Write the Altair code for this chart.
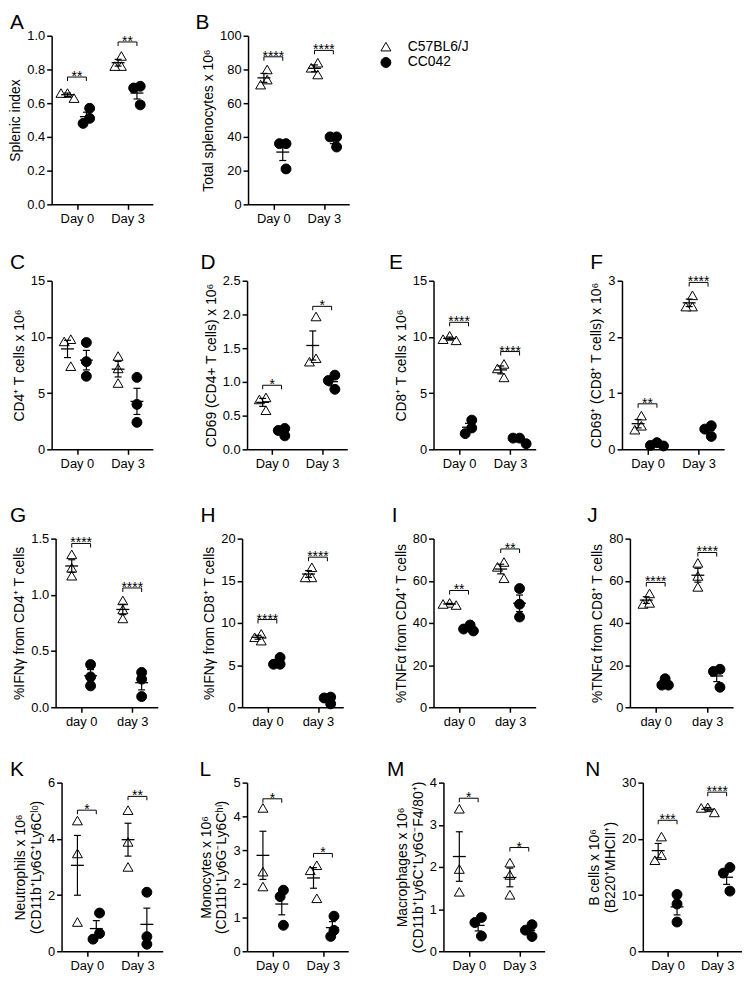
import json
import numpy as np
import pandas as pd
import altair as alt

FONT = "Liberation Sans"

strains = ["C57BL6/J", "CC042"]
days_cap = ["Day 0", "Day 3"]
days_low = ["day 0", "day 3"]

# value groups in order: [C57BL6/J day 0, CC042 day 0, C57BL6/J day 3, CC042 day 3]
splenic_index = [[0.66, 0.66, 0.63], [0.57, 0.51, 0.48], [0.88, 0.82, 0.82], [0.70, 0.69, 0.59]]
splenic_index_stars = ["**", "**"]
splenic_index_brackets = [0.755, 0.963]
splenic_index_ticks = [0, 0.2, 0.4, 0.6, 0.8, 1.0]

total_splenocytes = [[80, 71, 74], [36, 36, 21], [84, 81, 77], [40, 40, 34]]
total_splenocytes_stars = ["****", "****"]
total_splenocytes_brackets = [87.5, 91.3]
total_splenocytes_ticks = [0, 20, 40, 60, 80, 100]

cd4 = [[9.8, 9.6, 7.4], [9.5, 7.8, 6.5], [8.3, 7.2, 5.9], [6.4, 4.0, 2.4]]
cd4_stars = ["", ""]
cd4_brackets = [0, 0]
cd4_ticks = [0, 5, 10, 15]

cd69_cd4 = [[0.77, 0.74, 0.58], [0.31, 0.28, 0.20], [1.97, 1.30, 1.35], [1.10, 1.02, 0.89]]
cd69_cd4_stars = ["*", "*"]
cd69_cd4_brackets = [0.95, 2.12]
cd69_cd4_ticks = [0, 0.5, 1.0, 1.5, 2.0, 2.5]

cd8 = [[10.1, 9.8, 9.7], [2.6, 1.4, 1.9], [7.6, 7.2, 6.4], [0.5, 1.0, 1.0]]
cd8_stars = ["****", "****"]
cd8_brackets = [11.3, 8.7]
cd8_ticks = [0, 5, 10, 15]

cd69_cd8 = [[0.60, 0.35, 0.42], [0.12, 0.06, 0.07], [2.74, 2.54, 2.54], [0.42, 0.36, 0.23]]
cd69_cd8_stars = ["**", "****"]
cd69_cd8_brackets = [0.81, 2.97]
cd69_cd8_ticks = [0, 1, 2, 3]

ifng_cd4 = [[1.36, 1.24, 1.17], [0.38, 0.27, 0.19], [0.95, 0.87, 0.79], [0.31, 0.25, 0.095]]
ifng_cd4_stars = ["****", "****"]
ifng_cd4_brackets = [1.457, 1.061]
ifng_cd4_ticks = [0, 0.5, 1.0, 1.5]

ifng_cd8 = [[8.7, 8.3, 7.9], [5.9, 5.1, 5.1], [16.6, 15.4, 15.4], [1.2, 1.1, 0.4]]
ifng_cd8_stars = ["****", "****"]
ifng_cd8_brackets = [10.4, 17.8]
ifng_cd8_ticks = [0, 5, 10, 15, 20]

tnfa_cd4 = [[49.5, 49.0, 48.5], [39.0, 36.2, 37.1], [68.9, 66.6, 61.2], [56.3, 48.9, 42.8]]
tnfa_cd4_stars = ["**", "**"]
tnfa_cd4_brackets = [55.4, 75.1]
tnfa_cd4_ticks = [0, 20, 40, 60, 80]

tnfa_cd8 = [[54.0, 49.0, 49.5], [13.5, 10.5, 10.5], [68.5, 62.3, 57.1], [18.0, 17.0, 9.5]]
tnfa_cd8_stars = ["****", "****"]
tnfa_cd8_brackets = [59.2, 73.4]
tnfa_cd8_ticks = [0, 20, 40, 60, 80]

neutrophils = [[4.65, 3.48, 1.04], [1.36, 0.63, 0.43], [5.02, 3.89, 3.0], [2.1, 0.52, 0.25]]
neutrophils_stars = ["*", "**"]
neutrophils_brackets = [5.02, 5.51]
neutrophils_ticks = [0, 2, 4, 6]

monocytes = [[4.25, 2.36, 1.92], [1.81, 1.62, 0.77], [2.55, 2.40, 1.57], [1.04, 0.62, 0.44]]
monocytes_stars = ["*", "*"]
monocytes_brackets = [4.52, 2.9]
monocytes_ticks = [0, 1, 2, 3, 4, 5]

macrophages = [[3.38, 1.95, 1.41], [0.80, 0.68, 0.36], [2.10, 1.81, 1.34], [0.63, 0.50, 0.35]]
macrophages_stars = ["*", "*"]
macrophages_brackets = [3.63, 2.46]
macrophages_ticks = [0, 1, 2, 3, 4]

b_cells = [[20.4, 16.2, 17.1], [10.1, 8.4, 5.2], [25.6, 25.5, 24.7], [14.9, 13.9, 10.7]]
b_cells_stars = ["***", "****"]
b_cells_brackets = [23.3, 28.3]
b_cells_ticks = [0, 10, 20, 30]

panels = {
    "A": dict(title="Splenic index", vals=splenic_index, stars=splenic_index_stars,
              brackets=splenic_index_brackets, ticks=splenic_index_ticks, fmt=".1f", days=days_cap),
    "B": dict(title="Total splenocytes x 10⁶", vals=total_splenocytes, stars=total_splenocytes_stars,
              brackets=total_splenocytes_brackets, ticks=total_splenocytes_ticks, fmt="d", days=days_cap),
    "C": dict(title="CD4⁺ T cells x 10⁶", vals=cd4, stars=cd4_stars, brackets=cd4_brackets,
              ticks=cd4_ticks, fmt="d", days=days_cap),
    "D": dict(title="CD69 (CD4+ T cells) x 10⁶", vals=cd69_cd4, stars=cd69_cd4_stars,
              brackets=cd69_cd4_brackets, ticks=cd69_cd4_ticks, fmt=".1f", days=days_cap),
    "E": dict(title="CD8⁺ T cells x 10⁶", vals=cd8, stars=cd8_stars, brackets=cd8_brackets,
              ticks=cd8_ticks, fmt="d", days=days_cap),
    "F": dict(title="CD69⁺ (CD8⁺ T cells) x 10⁶", vals=cd69_cd8, stars=cd69_cd8_stars,
              brackets=cd69_cd8_brackets, ticks=cd69_cd8_ticks, fmt="d", days=days_cap),
    "G": dict(title="%IFNγ from CD4⁺ T cells", vals=ifng_cd4, stars=ifng_cd4_stars,
              brackets=ifng_cd4_brackets, ticks=ifng_cd4_ticks, fmt=".1f", days=days_low),
    "H": dict(title="%IFNγ from CD8⁺ T cells", vals=ifng_cd8, stars=ifng_cd8_stars,
              brackets=ifng_cd8_brackets, ticks=ifng_cd8_ticks, fmt="d", days=days_low),
    "I": dict(title="%TNFα from CD4⁺ T cells", vals=tnfa_cd4, stars=tnfa_cd4_stars,
              brackets=tnfa_cd4_brackets, ticks=tnfa_cd4_ticks, fmt="d", days=days_low),
    "J": dict(title="%TNFα from CD8⁺ T cells", vals=tnfa_cd8, stars=tnfa_cd8_stars,
              brackets=tnfa_cd8_brackets, ticks=tnfa_cd8_ticks, fmt="d", days=days_low),
    "K": dict(title=["Neutrophils x 10⁶", "(CD11b⁺Ly6G⁺Ly6Cˡᵒ)"], vals=neutrophils,
              stars=neutrophils_stars, brackets=neutrophils_brackets, ticks=neutrophils_ticks,
              fmt="d", days=days_cap),
    "L": dict(title=["Monocytes x 10⁶", "(CD11b⁺Ly6G⁻Ly6Cʰⁱ)"], vals=monocytes,
              stars=monocytes_stars, brackets=monocytes_brackets, ticks=monocytes_ticks,
              fmt="d", days=days_cap),
    "M": dict(title=["Macrophages x 10⁶", "(CD11b⁺Ly6C⁺Ly6G⁻F4/80⁺)"], vals=macrophages,
              stars=macrophages_stars, brackets=macrophages_brackets, ticks=macrophages_ticks,
              fmt="d", days=days_cap),
    "N": dict(title=["B cells x 10⁶", "(B220⁺MHCII⁺)"], vals=b_cells, stars=b_cells_stars,
              brackets=b_cells_brackets, ticks=b_cells_ticks, fmt="d", days=days_cap),
}

# ---------------- layout ----------------
H = 170
STRAIN_SHIFT = 9.5   # px between day tick and strain group centre
DOT = 6.6            # min px distance between symbols in a swarm
STEP = 3.3

layout = {
    "A": dict(w=102, dx=-42), "B": dict(w=102, dx=-53),
    "C": dict(w=102, dx=-42), "D": dict(w=101, dx=-47), "E": dict(w=103, dx=-45), "F": dict(w=103, dx=-32),
    "G": dict(w=103, dx=-46), "H": dict(w=102, dx=-42), "I": dict(w=103, dx=-42), "J": dict(w=104, dx=-43),
    "K": dict(w=102, dx=-52), "L": dict(w=102, dx=-48), "M": dict(w=102, dx=-57), "N": dict(w=100, dx=-58),
}
rows = [
    (["A", "B"], 0, [96]),
    (["C", "D", "E", "F"], 0, [95, 87, 87]),
    (["G", "H", "I", "J"], 4, [85, 91, 95]),
    (["K", "L", "M", "N"], 10, [85, 96, 99]),
]
title_offsets = [-3, 2, 7, -3]
row_spacing = [27, 35, 31]

LEG = alt.Legend(title=None, orient="none", legendX=330, legendY=4, labelFont=FONT, labelFontSize=14,
                 labelColor="black", symbolSize=100, symbolStrokeWidth=1,
                 symbolOpacity=1, labelOffset=15, rowPadding=2, padding=0)
SHAPE = alt.Shape("strain:N", scale=alt.Scale(domain=strains, range=["triangle-up", "circle"]), legend=LEG)
FILL = alt.Fill("strain:N", scale=alt.Scale(domain=strains, range=["white", "black"]), legend=LEG)
STROKE = alt.Stroke("strain:N", scale=alt.Scale(domain=strains, range=["black", "black"]), legend=LEG)


def swarm(vals, ymax):
    py = [v / ymax * H for v in vals]
    order = sorted(range(len(vals)), key=lambda i: -vals[i])
    offs = [0.0] * len(vals)
    placed = []
    for i in order:
        chosen = 0.0
        for k in [0, -1, 1, -2, 2, -3, 3, -4, 4]:
            dx = k * STEP
            if all((dx - offs[j]) ** 2 + (py[i] - py[j]) ** 2 >= DOT ** 2 for j in placed):
                chosen = dx
                break
        offs[i] = chosen
        placed.append(i)
    c = (max(offs) + min(offs)) / 2
    return [o - c for o in offs]


def make_panel(letter, toff):
    p = panels[letter]
    lay = layout[letter]
    W = lay["w"]
    half = W / 2.0
    ticks = p["ticks"]
    ymax = ticks[-1]
    pts, summ, brk, ends = [], [], [], []
    for gi, arr in enumerate(p["vals"]):
        day, si = divmod(gi, 2)
        xc = day + (1 if si else -1) * STRAIN_SHIFT / half
        for v, o in zip(arr, swarm(arr, ymax)):
            pts.append({"x": xc + o / half, "y": v, "strain": strains[si]})
        a = np.array(arr, dtype=float)
        m = a.mean()
        s = a.std(ddof=1) / np.sqrt(len(a))
        summ.append({"x": xc, "mean": m, "lo": m - s, "hi": m + s})
    for day, (st, by) in enumerate(zip(p["stars"], p["brackets"])):
        if not st:
            continue
        x1 = day - STRAIN_SHIFT / half
        x2 = day + STRAIN_SHIFT / half
        brk.append({"x": x1, "x2": x2, "y": by, "xm": day, "stars": st})
        ends += [{"x": x1, "y": by}, {"x": x2, "y": by}]

    xs = alt.Scale(domain=[-0.5, 1.5], nice=False, zero=False)
    ys = alt.Scale(domain=[0, ymax], nice=False, zero=True)
    xa = alt.Axis(values=[0, 1], labelExpr=json.dumps(p["days"]) + "[datum.value]", title=None)
    ya = alt.Axis(values=ticks, format=p["fmt"], title=p["title"])

    def X(f):
        return alt.X(f, type="quantitative", scale=xs, axis=xa)

    def Y(f):
        return alt.Y(f, type="quantitative", scale=ys, axis=ya)

    points = alt.Chart(pd.DataFrame(pts)).mark_point(
        filled=True, size=100, strokeWidth=1, opacity=1
    ).encode(x=X("x"), y=Y("y"), shape=SHAPE, fill=FILL, stroke=STROKE)
    sdf = alt.Chart(pd.DataFrame(summ))
    err = sdf.mark_rule(color="black", strokeWidth=1.2).encode(x=X("x"), y=Y("lo"), y2="hi")
    mean = sdf.mark_tick(orient="horizontal", size=13, thickness=1.3, color="black", opacity=1).encode(
        x=X("x"), y=Y("mean"))
    cap_lo = sdf.mark_tick(orient="horizontal", size=7, thickness=1.2, color="black", opacity=1).encode(
        x=X("x"), y=Y("lo"))
    cap_hi = sdf.mark_tick(orient="horizontal", size=7, thickness=1.2, color="black", opacity=1).encode(
        x=X("x"), y=Y("hi"))
    layers = [points, err, mean, cap_lo, cap_hi]
    if brk:
        bdf = alt.Chart(pd.DataFrame(brk))
        layers.append(bdf.mark_rule(color="black", strokeWidth=1).encode(x=X("x"), x2="x2", y=Y("y")))
        layers.append(bdf.mark_text(font=FONT, fontSize=14, baseline="alphabetic", dy=4, color="black").encode(
            x=X("xm"), y=Y("y"), text="stars:N"))
        layers.append(alt.Chart(pd.DataFrame(ends)).mark_tick(
            orient="vertical", size=4, thickness=1, yOffset=2, color="black", opacity=1
        ).encode(x=X("x"), y=Y("y")))
    return alt.layer(*layers).properties(
        width=W, height=H,
        title=alt.TitleParams(text=letter, anchor="start", frame="group", dx=lay["dx"], offset=toff,
                              fontSize=21, font=FONT, fontWeight="normal", color="black"),
    )


def spacer(w):
    return alt.Chart(pd.DataFrame({"s": [0]})).mark_point(opacity=0).properties(width=w, height=H)


row_charts = []
for ri, (letters, lead, gaps) in enumerate(rows):
    items = []
    if lead:
        items.append(spacer(lead))
    for li, letter in enumerate(letters):
        items.append(make_panel(letter, title_offsets[ri]))
        if li < len(gaps):
            items.append(spacer(gaps[li]))
    row_charts.append(
        alt.hconcat(*items, spacing=0, bounds="flush").resolve_scale(
            x="independent", y="independent", shape="shared", fill="shared", stroke="shared")
    )

chart = row_charts[0]
for rc, sp in zip(row_charts[1:], row_spacing):
    chart = alt.vconcat(chart, rc, spacing=sp).resolve_scale(
        x="independent", y="independent", shape="shared", fill="shared", stroke="shared")

chart = chart.properties(padding=0).configure_view(stroke=None).configure_axis(
    domainColor="black", domainWidth=1.5, tickColor="black", tickWidth=1.5, tickSize=5,
    labelFont=FONT, labelFontSize=13, labelColor="black", titleFont=FONT, titleFontSize=14,
    titleFontWeight="normal", titleColor="black", grid=False, labelPadding=2, titlePadding=4,
    titleLineHeight=16,
).configure_axisX(labelPadding=3)

chart.save("out.html", embed_options={"renderer": "svg", "actions": False})
